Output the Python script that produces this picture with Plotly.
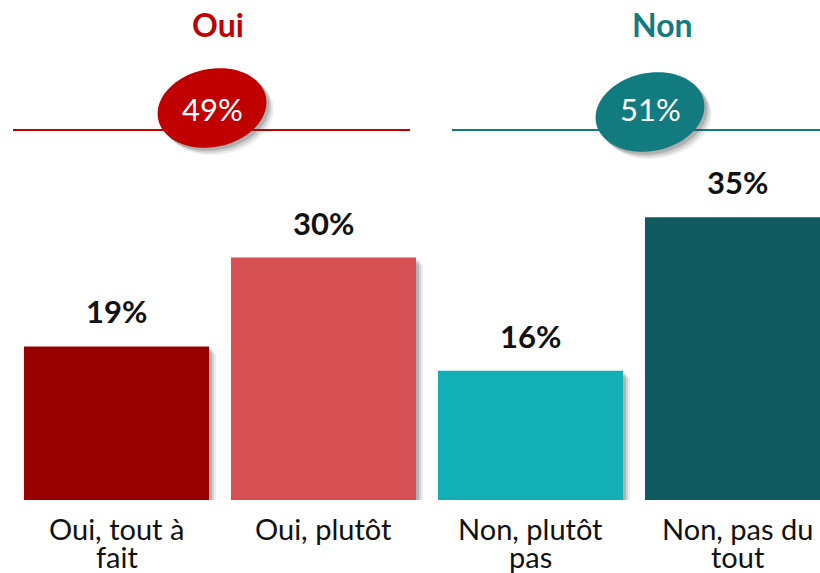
import numpy as np
import plotly.graph_objects as go

# Données
categories = ["Oui, tout à<br>fait", "Oui, plutôt", "Non, plutôt<br>pas", "Non, pas du<br>tout"]
valeurs = [19, 30, 16, 35]
couleurs = ["#960000", "#D64F52", "#13AFB7", "#0E5A5E"]

groupes = ["Oui", "Non"]
totaux = [49, 51]
couleurs_groupes = ["#C00000", "#127B80"]

W, H = 820, 573
BASE = 500          # pixel row of the bars' baseline
PX_PER_PCT = 8.08
BAR_STEP = 207
BAR_W = 0.894


def px(x):
    return x / W


def py(y):
    return (BASE - y) / BASE


x = list(range(len(valeurs)))

fig = go.Figure()
fig.add_trace(go.Bar(
    x=x, y=valeurs, width=BAR_W,
    marker=dict(color=couleurs, line=dict(width=0)),
    hoverinfo="skip",
))

shapes = []
annotations = []
FONT = "Lato"

# ombres des barres
for i, v in enumerate(valeurs):
    for k, op in [(7, 0.10), (5, 0.15), (3, 0.25)]:
        shapes.append(dict(
            type="rect", xref="x", yref="y", layer="below",
            x0=i - BAR_W / 2 + k / BAR_STEP, x1=i + BAR_W / 2 + k / BAR_STEP,
            y0=-k * 0.4 / PX_PER_PCT, y1=v - k / PX_PER_PCT,
            fillcolor=f"rgba(80,80,80,{op})", line=dict(width=0),
        ))
    annotations.append(dict(
        x=i, y=v, xref="x", yref="y", text=f"<b>{v}%</b>", showarrow=False,
        xanchor="center", yanchor="middle", yshift=35,
        font=dict(family=FONT, size=31, color="#111111"),
    ))
    for j, ligne in enumerate(categories[i].split("<br>")):
        annotations.append(dict(
            x=i, y=py(528 + 28 * j), xref="x", yref="paper", text=ligne,
            showarrow=False, xanchor="center", yanchor="middle",
            font=dict(family=FONT, size=29, color="#111111"),
        ))

# en-têtes, lignes et ellipses
head_x = [218, 662]
ell_c = [(212, 108), (650, 112)]
lines_x = [(13, 410), (452, 820)]
t = np.linspace(0, 2 * np.pi, 80)
theta = np.deg2rad(-12)
a, b = 55, 39


def ellipse_path(cx, cy):
    ex = cx + a * np.cos(t) * np.cos(theta) - b * np.sin(t) * np.sin(theta)
    ey = cy + a * np.cos(t) * np.sin(theta) + b * np.sin(t) * np.cos(theta)
    pts = [f"{px(u):.5f},{py(w):.5f}" for u, w in zip(ex, ey)]
    return "M " + " L ".join(pts) + " Z"


for g, tot, col, hx, (cx, cy), (lx0, lx1) in zip(groupes, totaux, couleurs_groupes, head_x, ell_c, lines_x):
    annotations.append(dict(
        x=px(hx), y=py(24), xref="paper", yref="paper", text=f"<b>{g}</b>",
        showarrow=False, xanchor="center", yanchor="middle",
        font=dict(family=FONT, size=32, color=col),
    ))
    shapes.append(dict(type="line", xref="paper", yref="paper",
                       x0=px(lx0), x1=px(lx1), y0=py(130), y1=py(130),
                       line=dict(color=col, width=2)))
    for k, op in [(7, 0.10), (5, 0.15), (3, 0.22)]:
        shapes.append(dict(type="path", xref="paper", yref="paper",
                           path=ellipse_path(cx + k, cy + k),
                           fillcolor=f"rgba(60,60,60,{op})", line=dict(width=0)))
    shapes.append(dict(type="path", xref="paper", yref="paper",
                       path=ellipse_path(cx, cy), fillcolor=col, line=dict(width=0)))
    annotations.append(dict(
        x=px(cx), y=py(109), xref="paper", yref="paper", text=f"{tot}%",
        showarrow=False, xanchor="center", yanchor="middle",
        font=dict(family=FONT, size=31, color="white"),
    ))

x0 = -116.5 / BAR_STEP
fig.update_layout(
    width=W, height=H,
    margin=dict(l=0, r=0, t=0, b=H - BASE, pad=0),
    plot_bgcolor="white", paper_bgcolor="white",
    showlegend=False,
    xaxis=dict(range=[x0, x0 + W / BAR_STEP], visible=False),
    yaxis=dict(range=[0, BASE / PX_PER_PCT], visible=False),
    shapes=shapes, annotations=annotations,
)

fig.write_html("out.html", config={"displayModeBar": False},
               post_script="document.body.style.margin='0';")
